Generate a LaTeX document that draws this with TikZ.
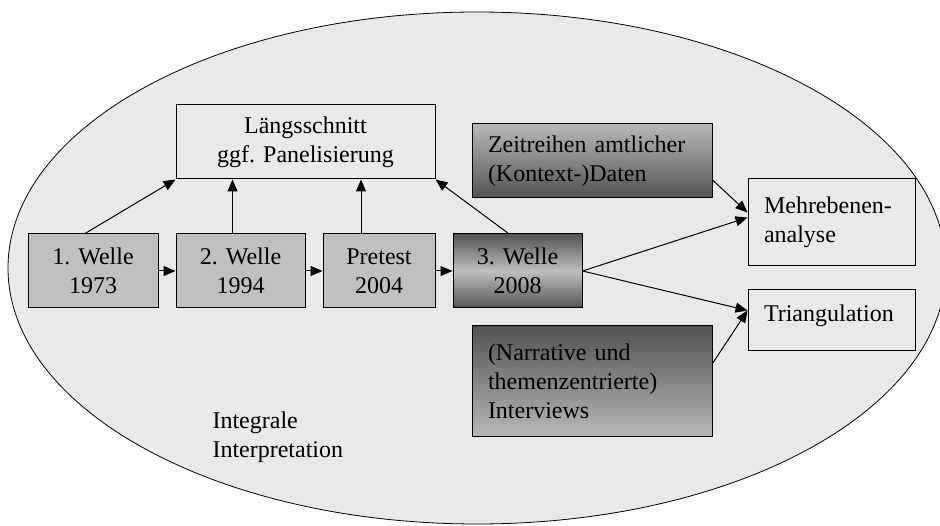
\documentclass[tikz,border=0pt]{standalone}
\usepackage{fontspec}
\setmainfont{Liberation Serif}
\usetikzlibrary{arrows.meta}
\definecolor{bgrey}{HTML}{E9E9E9}
\definecolor{wgrey}{HTML}{C0C0C0}
\definecolor{dgrey}{HTML}{525252}
\definecolor{lgrey}{HTML}{B8B8B8}
\begin{document}
\begin{tikzpicture}[x=1pt,y=-1pt,
    font=\fontsize{24}{29}\selectfont,
    box/.style={draw,line width=1pt,inner sep=0pt,align=center},
    wave/.style={box,fill=wgrey,minimum width=#1,minimum height=74pt},
    result/.style={box,fill=bgrey,align=left,inner xsep=16pt,text width=135pt,minimum height=#1},
    source/.style={box,align=left,inner xsep=16pt,text width=208pt,minimum height=#1},
    arr/.style={-{Triangle[length=12pt,width=10pt]},line width=1pt}]
  \clip (0,0) rectangle (940,526);
  \fill[white] (0,0) rectangle (940,526);
  % frame
  \draw[fill=bgrey,line width=0.8pt] (477,268) ellipse [x radius=469,y radius=256];
  \node[anchor=west,align=left] (interp) at (209,437) {Integrale\\Interpretation};
  % boxes
  \node[box,fill=bgrey,minimum width=259pt,minimum height=74pt] (lang) at (305.5,142) {L\"angsschnitt\\ggf. Panelisierung};
  \node[wave=130pt] (w1) at (93,271) {1. Welle\\1973};
  \node[wave=129pt] (w2) at (240.5,271) {2. Welle\\1994};
  \node[wave=112pt] (pre) at (379,271) {Pretest\\2004};
  \node[box,minimum width=129pt,minimum height=74pt,top color=dgrey,bottom color=dgrey,middle color=wgrey] (w3) at (517.5,271) {3. Welle\\2008};
  \node[source=74pt,top color=lgrey,bottom color=dgrey] (zeit) at (592,161) {Zeitreihen amtlicher\\(Kontext-)Daten};
  \node[source=111pt,top color=dgrey,bottom color=lgrey] (narr) at (592,381.5) {(Narrative und\\themenzentrierte)\\Interviews};
  \node[result=87pt] (mehr) at (831.5,222.5) {Mehrebenen-\\analyse};
  \node[result=61pt,text depth=14pt] (tri) at (831.5,320.5) {Triangulation};
  % arrows
  \draw[arr] ([xshift=-8pt]w1.north) -- (lang.south west);
  \draw[arr] ([xshift=-8pt]w2.north) coordinate (a2) -- (a2 |- lang.south);
  \draw[arr] ([xshift=-18pt]pre.north) coordinate (a3) -- (a3 |- lang.south);
  \draw[arr] ([xshift=-9pt]w3.north) -- (lang.south east);
  \draw[arr] (w1) -- (w2);
  \draw[arr] (w2) -- (pre);
  \draw[arr] (pre) -- (w3);
  \draw[arr] (w3.east) -- ([yshift=5pt]mehr.west);
  \draw[arr] (w3.east) -- ([yshift=10pt]tri.west);
  \draw[arr] ([yshift=-19pt]zeit.east) -- ([yshift=10pt]mehr.west);
  \draw[arr] ([yshift=18pt]narr.east) -- ([yshift=10pt]tri.west);
\end{tikzpicture}
\end{document}
